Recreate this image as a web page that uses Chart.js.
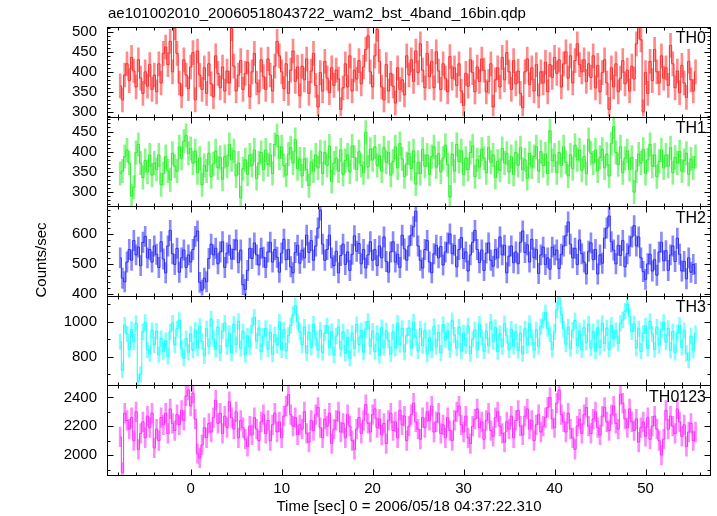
<!DOCTYPE html>
<html>
<head>
<meta charset="utf-8">
<style>
  html, body { margin: 0; padding: 0; background: #fff; }
</style>
</head>
<body>
<canvas id="lc" width="717" height="516"></canvas>
<script src="https://cdn.jsdelivr.net/npm/chart.js"></script>
<script>
  // bins of 0.25 s, first bin centre at -7.75 s
  const binStart = -7.75;
  const binSec = 0.25;

  const th0 = [
    365, 330, 392, 420, 378, 436, 402, 362, 430, 384, 346, 400, 364, 418, 356, 392,
    350, 420, 372, 446, 462, 418, 476, 400, 510, 446, 372, 340, 430, 392, 358, 412,
    448, 330, 452, 392, 356, 410, 346, 420, 370, 338, 440, 396, 360, 412, 352, 402,
    372, 508, 414, 352, 392, 428, 356, 396, 424, 338, 400, 446, 372, 350, 430, 388,
    356, 432, 392, 352, 414, 476, 440, 400, 358, 420, 346, 404, 452, 376, 412, 340,
    414, 380, 432, 346, 402, 446, 366, 312, 398, 352, 426, 384, 348, 410, 366, 404,
    382, 306, 360, 420, 362, 440, 352, 404, 382, 428, 370, 412, 456, 490, 400, 362,
    440, 506, 426, 362, 330, 418, 352, 396, 364, 322, 410, 356, 380, 342, 440, 392,
    430, 376, 452, 398, 470, 404, 360, 446, 388, 426, 360, 450, 402, 356, 420, 384,
    350, 438, 384, 410, 366, 420, 352, 316, 396, 364, 430, 398, 350, 412, 376, 432,
    404, 350, 376, 420, 312, 380, 410, 362, 436, 380, 448, 400, 356, 428, 370, 402,
    346, 310, 400, 432, 368, 410, 352, 418, 340, 400, 372, 424, 350, 418, 386, 436,
    396, 430, 362, 420, 450, 384, 440, 372, 428, 470, 418, 400, 430, 376, 420, 386,
    440, 360, 416, 350, 398, 430, 372, 306, 410, 362, 420, 350, 384, 428, 370, 404,
    352, 414, 382, 470, 512, 480, 300, 398, 346, 426, 378, 456, 400, 372, 440, 384,
    410, 366, 466, 420, 360, 402, 348, 416, 372, 336, 426, 380, 352, 400
  ];
  const th1 = [
    346, 352, 388, 404, 372, 290, 312, 398, 418, 372, 336, 378, 350, 392, 342, 372,
    356, 392, 318, 346, 388, 352, 330, 396, 364, 352, 412, 384, 426, 440, 396, 408,
    372, 402, 348, 384, 318, 366, 352, 396, 338, 370, 402, 360, 386, 332, 388, 364,
    418, 380, 402, 340, 372, 286, 358, 380, 344, 392, 366, 404, 334, 372, 398, 356,
    404, 368, 392, 346, 418, 440, 384, 412, 366, 342, 394, 410, 372, 430, 358, 382,
    340, 382, 356, 316, 374, 352, 392, 360, 400, 346, 398, 366, 414, 326, 372, 384,
    352, 404, 344, 378, 392, 350, 414, 386, 356, 400, 366, 348, 448, 362, 406, 380,
    412, 366, 390, 352, 410, 374, 398, 342, 376, 412, 360, 420, 382, 338, 370, 396,
    358, 402, 320, 374, 346, 406, 364, 392, 344, 388, 412, 362, 396, 350, 384, 416,
    368, 288, 394, 352, 418, 376, 402, 344, 384, 356, 398, 414, 338, 380, 362, 406,
    384, 348, 410, 374, 392, 336, 376, 354, 408, 372, 396, 350, 388, 344, 398, 366,
    410, 356, 380, 334, 396, 362, 388, 412, 352, 400, 366, 394, 346, 452, 378, 392,
    348, 398, 366, 412, 374, 340, 392, 358, 416, 380, 404, 354, 388, 346, 430, 396,
    372, 404, 352, 386, 406, 360, 394, 340, 420, 462, 398, 368, 412, 348, 384, 402,
    356, 386, 300, 352, 394, 372, 406, 346, 380, 418, 364, 392, 338, 376, 404, 360,
    392, 364, 410, 348, 386, 372, 400, 352, 378, 396, 344, 382, 360, 388
  ];
  const th2 = [
    520, 452, 440, 506, 548, 512, 578, 530, 556, 494, 572, 592, 520, 548, 506, 560,
    532, 488, 574, 516, 470, 560, 612, 534, 498, 552, 472, 520, 546, 488, 530, 506,
    548, 592, 610, 438, 412, 452, 440, 518, 566, 530, 552, 500, 540, 574, 488, 536,
    562, 516, 548, 580, 504, 546, 430, 414, 478, 552, 518, 570, 530, 496, 552, 522,
    488, 540, 572, 506, 548, 522, 472, 536, 582, 514, 548, 490, 470, 538, 562, 502,
    546, 520, 596, 538, 578, 512, 560, 620, 680, 566, 512, 548, 596, 520, 494, 542,
    470, 528, 566, 498, 540, 478, 532, 594, 542, 568, 500, 548, 486, 530, 574, 512,
    548, 494, 560, 520, 590, 508, 472, 540, 574, 506, 532, 488, 596, 550, 512, 560,
    596, 624, 676, 560, 512, 486, 548, 578, 506, 470, 534, 562, 520, 558, 496, 540,
    570, 600, 534, 562, 490, 548, 588, 518, 540, 476, 530, 572, 612, 548, 504, 546,
    478, 536, 570, 512, 492, 548, 520, 590, 530, 562, 470, 526, 560, 504, 540, 500,
    572, 610, 538, 564, 506, 582, 520, 548, 468, 530, 556, 498, 520, 482, 556, 530,
    546, 484, 532, 560, 594, 640, 566, 520, 552, 498, 580, 534, 506, 466, 542, 570,
    514, 548, 466, 530, 502, 586, 620, 660, 574, 546, 500, 562, 528, 578, 490, 534,
    560, 590, 628, 560, 590, 520, 474, 448, 500, 532, 476, 514, 462, 540, 572, 510,
    544, 478, 530, 560, 508, 586, 532, 476, 508, 450, 520, 472, 498, 468
  ];
  const th3 = [
    886, 724, 980, 930, 842, 956, 884, 990, 660, 700, 942, 996, 840, 818, 950, 868,
    946, 812, 904, 830, 892, 802, 942, 992, 868, 960, 1008, 848, 792, 904, 826, 930,
    838, 952, 850, 974, 888, 806, 960, 860, 1016, 904, 842, 970, 822, 946, 992, 858,
    934, 822, 986, 870, 1002, 848, 944, 812, 920, 856, 978, 1026, 890, 964, 830, 918,
    962, 844, 940, 816, 926, 868, 998, 840, 954, 834, 922, 978, 1040, 1092, 1000, 942,
    868, 970, 822, 940, 854, 986, 906, 838, 952, 824, 936, 976, 852, 944, 810, 918,
    970, 846, 942, 820, 912, 792, 934, 848, 984, 870, 950, 826, 958, 1002, 860, 946,
    830, 934, 808, 966, 852, 948, 894, 816, 942, 850, 992, 870, 962, 828, 920, 964,
    850, 998, 912, 834, 960, 864, 950, 816, 910, 838, 972, 858, 938, 822, 984, 896,
    948, 840, 1006, 924, 850, 970, 832, 936, 864, 976, 818, 900, 954, 840, 986, 912,
    832, 946, 864, 998, 886, 966, 830, 934, 858, 988, 920, 840, 958, 860, 942, 836,
    934, 818, 960, 866, 990, 912, 838, 954, 860, 972, 1008, 1052, 960, 930, 842, 942,
    1066, 1140, 1040, 958, 872, 970, 846, 952, 1006, 864, 948, 840, 966, 882, 986, 850,
    944, 832, 966, 854, 990, 876, 964, 842, 980, 904, 950, 876, 990, 1010, 1060, 1100,
    1030, 942, 988, 850, 960, 832, 934, 976, 848, 1002, 930, 842, 970, 864, 956, 996,
    884, 962, 838, 944, 826, 936, 980, 854, 950, 820, 782, 918, 838, 932
  ];
  const th0123 = [
    2126, 1880, 2290, 2240, 2180, 2260, 2100, 2300, 2040, 2150, 2230, 2120, 2270, 2190, 2290, 2050,
    2180, 2100, 2260, 2210, 2290, 2150, 2320, 2220, 2170, 2280, 2210, 2310, 2240, 2410, 2450, 2340,
    2430, 2250, 2010, 1980, 2070, 2190, 2120, 2220, 2160, 2260, 2380, 2220, 2290, 2150, 2270, 2190,
    2370, 2260, 2180, 2300, 2120, 2240, 2190, 2110, 2060, 2200, 2140, 2260, 2180, 2100, 2230, 2280,
    2150, 2240, 2100, 2210, 2290, 2160, 2230, 2120, 2270, 2340, 2420, 2280, 2200, 2260, 2140, 2210,
    2180, 2300, 2150, 2090, 2240, 2170, 2280, 2330, 2190, 2120, 2250, 2200, 2290, 2080, 2180, 2240,
    2300, 2160, 2220, 2120, 2280, 2200, 2100, 2040, 2180, 2260, 2150, 2240, 2350, 2220, 2160, 2280,
    2320, 2190, 2250, 2140, 2220, 2080, 2240, 2290, 2170, 2230, 2120, 2310, 2210, 2270, 2100, 2200,
    2280, 2360, 2230, 2180, 2110, 2260, 2190, 2300, 2240, 2340, 2160, 2230, 2290, 2150, 2210, 2120,
    2260, 2170, 2100, 2240, 2300, 2340, 2210, 2160, 2270, 2120, 2080, 2200, 2250, 2320, 2190, 2230,
    2110, 2240, 2290, 2170, 2130, 2260, 2300, 2200, 2150, 2090, 2230, 2180, 2270, 2120, 2240, 2310,
    2200, 2140, 2270, 2320, 2180, 2240, 2100, 2210, 2280, 2160, 2200, 2260, 2330, 2400, 2250, 2190,
    2360, 2450, 2280, 2230, 2160, 2290, 2180, 2120, 2040, 2200, 2250, 2150, 2280, 2330, 2200, 2150,
    2250, 2300, 2190, 2140, 2270, 2330, 2230, 2170, 2280, 2340, 2220, 2180, 2420, 2360, 2250, 2190,
    2320, 2230, 2170, 2250, 2090, 2190, 2230, 2130, 2260, 2110, 2200, 2270, 2180, 2100, 2000, 2110,
    2310, 2180, 2270, 2200, 2150, 2320, 2230, 2130, 2210, 2060, 2160, 2220, 2100, 2160
  ];

  const panelNames = ["TH0", "TH1", "TH2", "TH3", "TH0123"];
  const errBars = [30, 29, 34, 44, 68]; // +/- counts/sec per bin
  const yRanges = [[288, 512], [265, 487], [393, 693], [638, 1147], [1862, 2483]];
  const yTickLabels = [
    [300, 350, 400, 450, 500],
    [300, 350, 400, 450],
    [400, 500, 600],
    [800, 1000],
    [2000, 2200, 2400]
  ];
  const xTickLabels = [0, 10, 20, 30, 40, 50];
  const yMajor = [50, 50, 100, 200, 200];
  const yMinor = [10, 10, 20, 100, 100];

  const series = [th0, th1, th2, th3, th0123];
  const lineColors = ["#ff2a2a", "#2aee2a", "#2a2aff", "#1affff", "#ff2aff"];
  const barColors = ["rgba(255,42,42,0.55)", "rgba(42,238,42,0.55)", "rgba(42,42,255,0.55)",
                     "rgba(26,255,255,0.55)", "rgba(255,42,255,0.55)"];
  const times = th0.map((v, i) => binStart + i * binSec);

  const fontFam = '"Liberation Sans", Arial, Helvetica, sans-serif';
  const panelKeys = panelNames.map((n, p) => "y" + p);

  // one clip box per panel, then frame + pgplot style inward ticks
  const panelPlugin = {
    id: "panels",
    beforeDatasetDraw(chart, args) {
      const ys = chart.scales[args.meta.yAxisID];
      const a = chart.chartArea;
      const ctx = chart.ctx;
      ctx.save();
      ctx.beginPath();
      ctx.rect(a.left, ys.top, a.right - a.left, ys.bottom - ys.top);
      ctx.clip();
    },
    afterDatasetDraw(chart) {
      chart.ctx.restore();
    },
    afterDraw(chart) {
      const ctx = chart.ctx;
      const a = chart.chartArea;
      const xs = chart.scales.x;
      ctx.save();
      ctx.strokeStyle = "#000";
      ctx.lineWidth = 1;
      ctx.fillStyle = "#000";
      panelKeys.forEach((key, p) => {
        const ys = chart.scales[key];
        const top = Math.round(ys.top) + 0.5;
        const bot = Math.round(ys.bottom) + 0.5;
        const left = Math.round(a.left) + 0.5;
        const right = Math.round(a.right) - 0.5;
        ctx.strokeRect(left, top, right - left, bot - top);
        ctx.beginPath();
        for (let v = Math.ceil(xs.min / 2) * 2; v <= xs.max; v += 2) {
          const px = Math.round(xs.getPixelForValue(v)) + 0.5;
          const len = Math.abs(v % 10) < 1e-6 ? 6 : 3;
          ctx.moveTo(px, top); ctx.lineTo(px, top + len);
          ctx.moveTo(px, bot); ctx.lineTo(px, bot - len);
        }
        const step = yMinor[p];
        for (let v = Math.ceil(ys.min / step) * step; v <= ys.max; v += step) {
          const py = Math.round(ys.getPixelForValue(v)) + 0.5;
          const len = v % yMajor[p] === 0 ? 6 : 3;
          ctx.moveTo(left, py); ctx.lineTo(left + len, py);
          ctx.moveTo(right, py); ctx.lineTo(right - len, py);
        }
        ctx.stroke();
        ctx.font = "16px " + fontFam;
        ctx.textAlign = "right";
        ctx.textBaseline = "middle";
        ctx.fillText(panelNames[p], a.right - 5, ys.top + 12);
      });
      ctx.font = "15px " + fontFam;
      ctx.textAlign = "left";
      ctx.textBaseline = "middle";
      ctx.fillText("ae101002010_20060518043722_wam2_bst_4band_16bin.qdp", a.left + 1, 14);
      ctx.translate(42, 260);
      ctx.rotate(-Math.PI / 2);
      ctx.textAlign = "center";
      ctx.fillText("Counts/sec", 0, 0);
      ctx.restore();
    }
  };

  const datasets = [];
  series.forEach((vals, p) => {
    datasets.push({
      type: "bar",
      yAxisID: panelKeys[p],
      data: vals.map((v, i) => ({ x: times[i], y: [v - errBars[p], v + errBars[p]] })),
      backgroundColor: barColors[p],
      barThickness: 2,
      grouped: false
    });
    datasets.push({
      type: "line",
      yAxisID: panelKeys[p],
      data: vals.map((v, i) => ({ x: times[i], y: v })),
      borderColor: lineColors[p],
      borderWidth: 1,
      pointRadius: 0,
      stepped: "middle"
    });
  });

  const scales = {
    x: {
      type: "linear",
      min: -9.2,
      max: 57.2,
      offset: false,
      grid: { display: false, drawTicks: false, offset: false },
      border: { display: false },
      afterBuildTicks(s) { s.ticks = xTickLabels.map((v) => ({ value: v })); },
      ticks: {
        autoSkip: false, padding: 5, color: "#000",
        maxRotation: 0, font: { size: 15, family: fontFam },
        callback: (v) => String(v)
      },
      title: {
        display: true, text: "Time [sec] 0 = 2006/05/18 04:37:22.310", color: "#000",
        font: { size: 15, family: fontFam }, padding: { top: 2, bottom: 0 }
      },
      afterFit(s) { s.height = 41; }
    }
  };
  // last key ends up on top of the stack
  for (let p = panelKeys.length - 1; p >= 0; p--) {
    scales[panelKeys[p]] = {
      type: "linear",
      position: "left",
      stack: "lc",
      stackWeight: 1,
      min: yRanges[p][0],
      max: yRanges[p][1],
      grid: { display: false, drawTicks: false },
      border: { display: false },
      afterBuildTicks(s) { s.ticks = yTickLabels[p].map((v) => ({ value: v })); },
      ticks: {
        autoSkip: false, padding: 10, color: "#000",
        font: { size: 15, family: fontFam },
        callback: (v) => String(v)
      },
      afterFit(s) { s.width = 107; }
    };
  }

  new Chart(document.getElementById("lc").getContext("2d"), {
    type: "line",
    data: { datasets: datasets },
    options: {
      responsive: false,
      animation: false,
      devicePixelRatio: 1,
      layout: { padding: { top: 27, right: 6, left: 0, bottom: 0 } },
      plugins: { legend: { display: false }, tooltip: { enabled: false } },
      scales: scales
    },
    plugins: [panelPlugin]
  });
</script>
</body>
</html>
